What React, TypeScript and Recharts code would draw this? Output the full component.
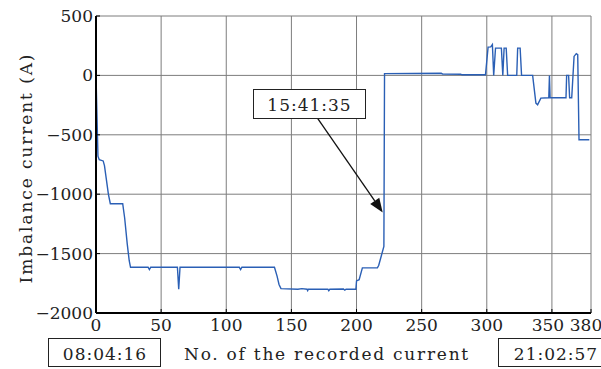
import React from 'react';
import { LineChart, Line, XAxis, YAxis, CartesianGrid, ReferenceLine } from 'recharts';

const sampleNo = [
  0, 1.5, 2.5, 5.5, 6.5, 8, 9.5, 11, 20.5, 22, 24, 25.5, 26.5,
  40, 41, 42, 62.5, 63.5, 64.5, 110, 111, 112, 137, 139, 140.5, 142,
  155, 158, 162, 162.5, 163, 178, 178.7, 179.5, 190, 191, 192, 199.5,
  200, 202, 204.5, 216, 217, 219, 221, 221.5,
  265, 266, 280, 281, 299, 301, 303, 304.3, 305.3, 306.7, 311.2, 312.3, 313.3, 314.9, 316,
  323, 323.7, 325.6, 326.7, 335.2, 337.7, 339, 341.5, 347.6, 348.1, 348.6,
  360.8, 361.3, 362.8, 363.6, 365.2, 367, 368.7, 369.8, 370.8, 378.7,
];
const current = [
  0, -680, -710, -720, -760, -880, -1000, -1080, -1080, -1200, -1420, -1560, -1615,
  -1615, -1635, -1615, -1615, -1800, -1615, -1615, -1635, -1615, -1615, -1690, -1760, -1795,
  -1800, -1795, -1800, -1812, -1800, -1800, -1812, -1800, -1798, -1808, -1800, -1800,
  -1730, -1720, -1620, -1620, -1600, -1520, -1440, 15,
  18, 12, 10, 5, 5, 238, 240, 260, 0, 230, 230, 0, 230, 230, 0,
  0, 230, 230, 0, 0, -233, -247, -191, -188, 0, -188,
  -188, 0, 0, -188, -188, 160, 183, 175, -542, -542,
];
const xTicks = [0, 50, 100, 150, 200, 250, 300, 350, 380];
const yTicks = [-2000, -1500, -1000, -500, 0, 500];
const startTime = '08:04:16';
const markTime = '15:41:35';
const endTime = '21:02:57';
const xLabel = 'No. of the recorded current';
const yLabel = 'Imbalance current (A)';
const arrowFrom = { x: 170, y: -359 };
const arrowTo = { x: 220.1, y: -1154 };

const data = sampleNo.map((x, i) => ({ x, y: current[i] }));

const FONT = "'DejaVu Serif', serif";
const TEXT = '#222';
const tStyle = (size: number, ls: number): React.CSSProperties => ({
  fontFamily: FONT, fontSize: size, letterSpacing: ls,
});

const XTick = (props: any) => {
  const { x, y, payload } = props;
  const v = payload.value;
  const dx = v === 350 ? -4 : v === 380 ? -5 : 0;
  return (
    <text x={x + dx} y={y} dy="0.71em" textAnchor="middle" fill={TEXT} style={tStyle(17, 0)}>
      {String(v)}
    </text>
  );
};

const YTick = (props: any) => {
  const { x, y, payload } = props;
  const s = String(payload.value).replace('-', '\u2212');
  return (
    <text x={x} y={y} dy="0.355em" textAnchor="end" fill={TEXT} style={tStyle(17, 0)}>
      {s}
    </text>
  );
};

const Arrow = (props: any) => {
  const { x1, y1, x2, y2 } = props;
  const dx = x2 - x1;
  const dy = y2 - y1;
  const len = Math.sqrt(dx * dx + dy * dy) || 1;
  const ux = dx / len;
  const uy = dy / len;
  const hl = 14;
  const hw = 5.5;
  const bx = x2 - ux * hl;
  const by = y2 - uy * hl;
  const p1 = `${x2},${y2}`;
  const p2 = `${bx - uy * hw},${by + ux * hw}`;
  const p3 = `${bx + uy * hw},${by - ux * hw}`;
  return (
    <g>
      <line x1={x1} y1={y1} x2={bx} y2={by} stroke="#111" strokeWidth={1.3} />
      <polygon points={`${p1} ${p2} ${p3}`} fill="#111" />
    </g>
  );
};

export default function App() {
  return (
    <div style={{ position: 'absolute', left: 0, top: 0, width: 601, height: 369, overflow: 'hidden', background: '#fff' }}>
      <LineChart width={601} height={369} data={data}
        margin={{ top: 16, right: 10, left: 0, bottom: 0 }}>
        <CartesianGrid stroke="#7d7d7d" strokeWidth={1} />
        <XAxis dataKey="x" type="number" domain={[0, 380]} ticks={xTicks} interval={0}
          height={56} tickSize={-4} tickMargin={10} tick={<XTick />}
          axisLine={{ stroke: '#000', strokeWidth: 2 }} tickLine={{ stroke: '#000' }} />
        <XAxis xAxisId="top" orientation="top" type="number" domain={[0, 380]} ticks={xTicks}
          interval={0} height={0} tickSize={-4} tick={false}
          axisLine={{ stroke: '#7d7d7d' }} tickLine={{ stroke: '#000' }} />
        <YAxis type="number" domain={[-2000, 500]} ticks={yTicks} interval={0} width={96}
          tickSize={-4} tickMargin={7} tick={<YTick />}
          axisLine={{ stroke: '#000', strokeWidth: 2 }} tickLine={{ stroke: '#000' }} />
        <YAxis yAxisId="right" orientation="right" type="number" domain={[-2000, 500]} ticks={yTicks}
          interval={0} width={0} tickSize={-4} tick={false}
          axisLine={{ stroke: '#000', strokeWidth: 1.5 }} tickLine={{ stroke: '#000' }} />
        <Line type="linear" dataKey="y" stroke="#2a5fb5" strokeWidth={1.4} dot={false}
          isAnimationActive={false} />
        <ReferenceLine segment={[arrowFrom, arrowTo]} shape={(p: any) => <Arrow {...p} />} ifOverflow="visible" />
      </LineChart>
      <svg width={601} height={369} style={{ position: 'absolute', left: 0, top: 0, pointerEvents: 'none' }}>
        <rect x={253.5} y={89.5} width={112} height={29} fill="#fff" stroke="#222" strokeWidth={1} />
        <text x={309.5} y={111} textAnchor="middle" fill={TEXT} style={tStyle(17, 1)}>{markTime}</text>
        <rect x={48.5} y={338.5} width={112} height={28} fill="#fff" stroke="#222" strokeWidth={1} />
        <text x={105} y={360} textAnchor="middle" fill={TEXT} style={tStyle(17, 1)}>{startTime}</text>
        <rect x={498.5} y={338.5} width={113} height={28} fill="#fff" stroke="#222" strokeWidth={1} />
        <text x={556} y={360} textAnchor="middle" fill={TEXT} style={tStyle(17, 1)}>{endTime}</text>
        <text x={184} y={360} textAnchor="start" fill={TEXT} style={tStyle(17, 1.75)}>{xLabel}</text>
        <text x={31.5} y={168} textAnchor="middle" fill={TEXT} style={tStyle(17, 1.9)}
          transform="rotate(-90, 31.5, 168)">{yLabel}</text>
      </svg>
    </div>
  );
}
